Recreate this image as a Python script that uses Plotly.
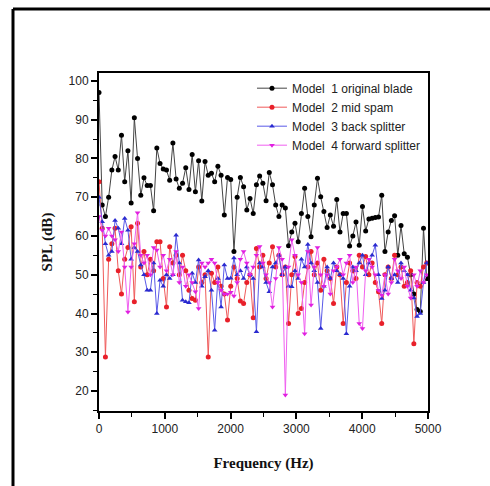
import plotly.graph_objects as go

# FFT bin frequencies (Hz): 50000/1024 spacing, 103 bins
freq = [k * 48.828125 for k in range(103)]

model1 = [97, 68, 65, 70, 77, 80.5, 77, 86, 74, 82, 68.5, 90.5, 80, 70.5, 75, 73, 73, 66.5, 82.7, 78.7,
          77.3, 77, 74.4, 84, 74.7, 72.3, 73.6, 77.6, 72, 81, 71.4, 79.4, 69, 79.2, 75.7, 76.2, 74, 78, 75.7, 65.4,
          75.1, 74.6, 56, 70, 75.1, 72.7, 66.7, 69.7, 65.8, 73.2, 75.5, 73.6, 69.1, 76.4, 73.2, 68, 65, 68, 67.2, 57.5,
          61, 63.3, 58.5, 65.8, 72.3, 65, 59.8, 68, 74.9, 70.1, 66.3, 62.2, 65.4, 62.5, 69.4, 61, 65.8, 65.8, 57.4, 60,
          63.6, 57.6, 67.6, 61.3, 64.4, 64.6, 64.8, 64.9, 70.5, 56, 61, 64, 65.2, 55, 62.7, 55.4, 54.5, 50, 45, 41,
          40.5, 62, 49]

model2 = [74, 62, 28.8, 54, 58, 62, 51, 45, 54, 57, 62.4, 43, 63.3, 52, 56, 50, 54, 51, 58.5, 58.5,
          49, 41.7, 57.2, 53, 55, 50, 55, 51, 46, 43.9, 43.4, 52, 48, 50, 28.8, 50.4, 48, 52, 47, 45,
          38.3, 47, 52, 49, 43.2, 42.6, 48, 50, 38.9, 56.8, 52, 55, 49, 53, 57.2, 52, 55, 50, 52, 37.4,
          50, 54.7, 40, 41.3, 48, 52, 56, 50, 53, 46, 54, 51, 49, 42.6, 52, 50, 37.4, 48, 53, 51,
          49, 55, 52, 54.7, 50, 53, 48, 45.6, 37.4, 50, 52, 49, 55, 50, 52, 47, 48, 51, 32.2, 48,
          47, 52, 53]

model3 = [70, 63.7, 58, 55, 56, 64, 62, 58, 64.5, 61.5, 54, 57, 56, 52.5, 50, 46, 46, 53, 40, 48.6,
          47, 50, 49, 50, 60.2, 53, 43.4, 43, 42.8, 50.4, 48, 53.8, 47, 49.5, 51, 46, 35.7, 49, 41.7, 52.5,
          49, 49.1, 54.3, 50, 51, 49, 52, 50, 49, 35.3, 53, 52, 48, 45.6, 52, 53, 55, 50, 52, 47,
          46.9, 51, 49, 54, 52, 57.8, 53, 51, 48, 36.1, 47, 52, 49, 53, 51, 50, 49, 34.8, 47, 52,
          51, 53, 55, 50, 53, 55, 57.6, 50, 43.9, 46, 52, 49, 50, 48, 53, 51, 50, 46, 44, 39.2,
          40, 48, 53]

model4 = [65, 61.5, 60, 62, 60, 59, 56, 61, 52, 40.4, 52, 58, 66, 55, 53, 55, 50, 57, 56.4, 52,
          55, 51, 54, 50, 56, 48, 52, 47, 50, 48, 45.6, 41.3, 53, 52, 53, 54, 53, 48, 46, 45,
          45, 45.5, 44.5, 48, 54, 56, 53, 50, 52, 55, 57.3, 53, 50, 48, 41.7, 49, 57, 54, 19, 52,
          59, 55, 50, 48, 34.8, 56, 42.2, 52, 57, 50, 47, 50, 45, 51, 52, 54, 50, 53, 55, 48,
          52, 37.4, 36.1, 51, 54, 52, 50, 46, 44.7, 50, 45, 48, 54, 51, 49, 52, 47, 44, 50, 47,
          51, 48, 50]

names = ["Model\u00a0 1 original blade", "Model\u00a0 2 mid spam",
         "Model\u00a0 3 back splitter", "Model\u00a0 4 forward splitter"]
series = [model1, model2, model3, model4]
line_colors = ["#444444", "#f05a5a", "#5a5ae8", "#f060f0"]
marker_colors = ["#000000", "#e8202a", "#2a2ad0", "#e020e0"]
symbols = ["circle", "circle", "triangle-up", "triangle-down"]

fig = go.Figure()
for nm, ys, lc, mc, sym in zip(names, series, line_colors, marker_colors, symbols):
    fig.add_trace(go.Scatter(
        x=freq, y=ys, name=nm, mode="lines+markers",
        line=dict(color=lc, width=1),
        marker=dict(color=mc, size=5, symbol=sym),
    ))

axis_font = dict(family="Liberation Sans, Arial", size=12, color="#222222")
title_font = dict(family="Liberation Serif, Times New Roman", size=15, color="#111111")

fig.update_layout(
    width=490, height=486,
    margin=dict(l=99, r=62, t=73, b=75),
    paper_bgcolor="white", plot_bgcolor="white",
    showlegend=True,
    legend=dict(x=0.465, y=0.998, xanchor="left", yanchor="top",
                bgcolor="rgba(0,0,0,0)", borderwidth=0,
                font=dict(family="Liberation Sans, Arial", size=12, color="#222222"),
                tracegroupgap=0, itemwidth=30),
    xaxis=dict(range=[0, 5000], tickvals=[0, 1000, 2000, 3000, 4000, 5000],
               ticks="outside", ticklen=6, tickwidth=1.5, tickcolor="black",
               minor=dict(tickvals=[500, 1500, 2500, 3500, 4500], ticks="outside", ticklen=4,
                          tickwidth=1.2, tickcolor="black"),
               showline=True, linecolor="black", linewidth=2, mirror=True,
               showgrid=False, zeroline=False, tickfont=axis_font,
               title=dict(text="<b>Frequency (Hz)</b>", font=title_font, standoff=22)),
    yaxis=dict(range=[14.84, 102.06], tickvals=[20, 30, 40, 50, 60, 70, 80, 90, 100],
               ticks="outside", ticklen=6, tickwidth=1.5, tickcolor="black",
               minor=dict(tickvals=[15, 25, 35, 45, 55, 65, 75, 85, 95], ticks="outside", ticklen=4,
                          tickwidth=1.2, tickcolor="black"),
               showline=True, linecolor="black", linewidth=2, mirror=True,
               showgrid=False, zeroline=False, tickfont=axis_font,
               title=dict(text="<b>SPL (dB)</b>", font=title_font, standoff=12)),
    shapes=[
        dict(type="line", xref="paper", yref="paper", x0=-0.2614, x1=1.2, y0=1.1893, y1=1.1893,
             line=dict(color="black", width=3)),
        dict(type="line", xref="paper", yref="paper", x0=-0.2614, x1=-0.2614, y0=1.1893, y1=-0.24,
             line=dict(color="black", width=3)),
    ],
)

fig.write_html("out.html")
